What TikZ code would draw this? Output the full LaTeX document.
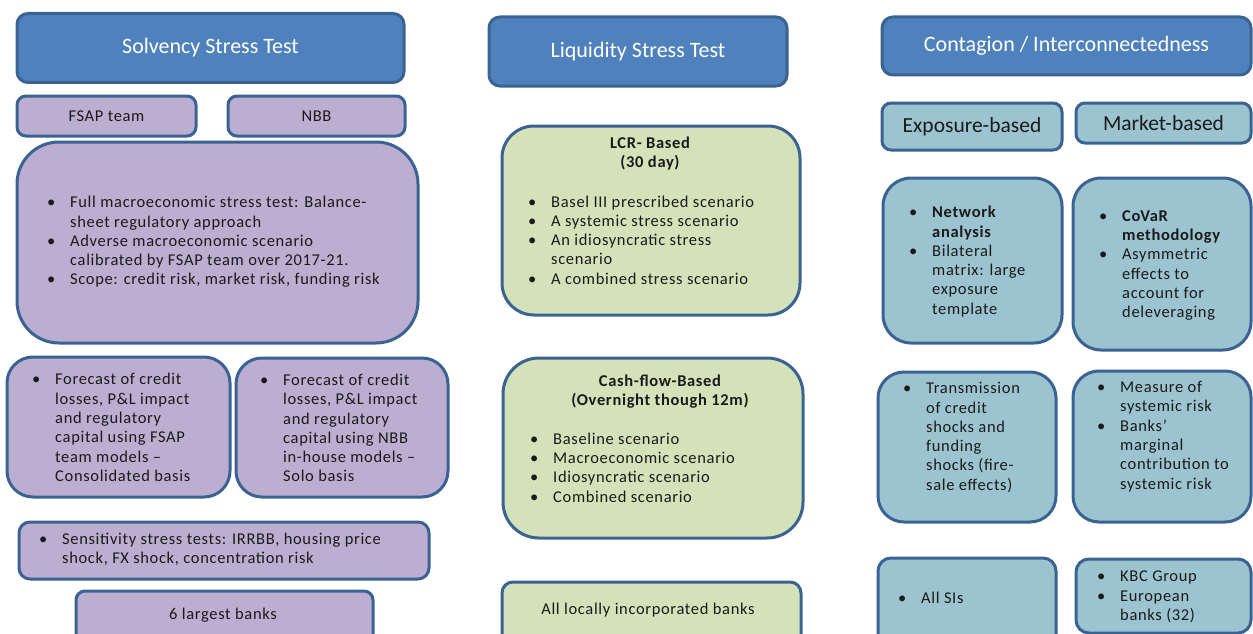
\documentclass[tikz,border=0pt]{standalone}
\usepackage{fontspec}
\setmainfont{Carlito}
\newfontfamily\bodyfont[LetterSpace=4]{Carlito}
\definecolor{hdrfill}{HTML}{4F81BD}
\definecolor{edge}{HTML}{3A6393}
\definecolor{purp}{HTML}{BCAED1}
\definecolor{olive}{HTML}{D4E2BA}
\definecolor{aqua}{HTML}{9CC4D0}
\definecolor{ink}{HTML}{1A1A1A}
\newcommand\bl{\makebox[23pt][l]{\textbullet}}
\newcommand\ind{\hspace*{23pt}}
\tikzset{
  boxbase/.style={draw=edge, line width=3pt, inner sep=0pt, text=ink},
  hdr/.style={boxbase, fill=hdrfill, rounded corners=11pt, text=white,
    font=\fontsize{22}{26}\selectfont},
  pbox/.style={boxbase, fill=purp},
  gbox/.style={boxbase, fill=olive},
  abox/.style={boxbase, fill=aqua},
  txt/.style={inner sep=0pt, align=left, text=ink,
    font=\bodyfont\fontsize{16.5}{19.3}\selectfont},
  ttl/.style={inner sep=0pt, align=center, text=ink,
    font=\bodyfont\fontsize{16.5}{19.3}\selectfont\bfseries},
  lbl/.style={font=\bodyfont\fontsize{16.5}{19.3}\selectfont},
  biglbl/.style={font=\fontsize{21.5}{24}\selectfont},
}
\begin{document}
\begin{tikzpicture}[x=1pt,y=-1pt]
\clip (0,0) rectangle (1253,634);
\fill[white] (0,0) rectangle (1253,634);

% ---------- Solvency column ----------
\node[hdr, minimum width=387pt, minimum height=69pt] (solv) at (210.5,48) {Solvency Stress Test};
\node[pbox, rounded corners=9pt, lbl, minimum width=179pt, minimum height=40pt] (fsap) at (106.5,116) {FSAP team};
\node[pbox, rounded corners=9pt, lbl, minimum width=177pt, minimum height=40pt] (nbb) at (316.5,116) {NBB};
\node[pbox, rounded corners=42pt, minimum width=401pt, minimum height=201pt] (macro) at (217.5,242.5) {};
\node[txt, anchor=west] (macrot) at (47,242) {\bl Full macroeconomic stress test: Balance-\\
\ind sheet regulatory approach\\
\bl Adverse macroeconomic scenario\\
\ind calibrated by FSAP team over 2017-21.\\
\bl Scope: credit risk, market risk, funding risk};
\node[pbox, rounded corners=26pt, minimum width=223pt, minimum height=140pt] (fc1) at (118.5,427) {};
\node[txt, anchor=west] (fc1t) at (32,427.5) {\bl Forecast of credit\\
\ind losses, P\&L impact\\
\ind and regulatory\\
\ind capital using FSAP\\
\ind team models –\\
\ind Consolidated basis};
\node[pbox, rounded corners=26pt, minimum width=212pt, minimum height=139pt] (fc2) at (342,427.5) {};
\node[txt, anchor=west] (fc2t) at (260,428) {\bl Forecast of credit\\
\ind losses, P\&L impact\\
\ind and regulatory\\
\ind capital using NBB\\
\ind in-house models –\\
\ind Solo basis};
\node[pbox, rounded corners=11pt, minimum width=410pt, minimum height=57pt] (sens) at (224,550.5) {};
\node[txt, anchor=west] (senst) at (39,549.5) {\bl Sensitivity stress tests: IRRBB, housing price\\
\ind shock, FX shock, concentration risk};
\node[pbox, rounded corners=9pt, minimum width=297pt, minimum height=59pt] (six) at (224.5,620.5) {};
\node[lbl, text=ink] (sixt) at (223,615) {6 largest banks};

% ---------- Liquidity column ----------
\node[hdr, minimum width=298pt, minimum height=69pt] (liq) at (638,51.5) {Liquidity Stress Test};
\node[gbox, rounded corners=32pt, minimum width=298pt, minimum height=189pt] (lcr) at (651,220.5) {};
\node[ttl] (lcrh) at (650,153.5) {LCR- Based\\(30 day)};
\node[txt, anchor=west] (lcrt) at (528,240) {\bl Basel III prescribed scenario\\
\bl A systemic stress scenario\\
\bl An idiosyncratic stress\\
\ind scenario\\
\bl A combined stress scenario};
\node[gbox, rounded corners=36pt, minimum width=300pt, minimum height=180pt] (cash) at (653,448) {};
\node[ttl] (cashh) at (660,391.5) {Cash-flow-Based\\(Overnight though 12m)};
\node[txt, anchor=west] (casht) at (530,467.5) {\bl Baseline scenario\\
\bl Macroeconomic scenario\\
\bl Idiosyncratic scenario\\
\bl Combined scenario};
\node[gbox, rounded corners=11pt, minimum width=299pt, minimum height=68pt] (all) at (651.5,616) {};
\node[lbl, text=ink] (allt) at (648,610) {All locally incorporated banks};

% ---------- Contagion column ----------
\node[hdr, minimum width=369pt, minimum height=58pt] (cont) at (1066.5,46) {Contagion / Interconnectedness};
\node[abox, rounded corners=9pt, biglbl, minimum width=180pt, minimum height=47pt] (expo) at (972,126.5) {Exposure-based};
\node[abox, rounded corners=9pt, biglbl, minimum width=175pt, minimum height=40pt] (mkt) at (1163.5,123) {Market-based};
\node[abox, rounded corners=28pt, minimum width=179pt, minimum height=165pt] (net) at (972.5,260.5) {};
\node[txt, anchor=west] (nett) at (909,261.5) {\bl \textbf{Network}\\
\ind \textbf{analysis}\\
\bl Bilateral\\
\ind matrix: large\\
\ind exposure\\
\ind template};
\node[abox, rounded corners=28pt, minimum width=178pt, minimum height=172pt] (covar) at (1162,264) {};
\node[txt, anchor=west] (covart) at (1099,265.5) {\bl \textbf{CoVaR}\\
\ind \textbf{methodology}\\
\bl Asymmetric\\
\ind effects to\\
\ind account for\\
\ind deleveraging};
\node[abox, rounded corners=26pt, minimum width=178pt, minimum height=150pt] (trans) at (967,447) {};
\node[txt, anchor=west] (transt) at (903,437.5) {\bl Transmission\\
\ind of credit\\
\ind shocks and\\
\ind funding\\
\ind shocks (fire-\\
\ind sale effects)};
\node[abox, rounded corners=26pt, minimum width=178pt, minimum height=151pt] (meas) at (1162,446.5) {};
\node[txt, anchor=west] (meast) at (1097,436.5) {\bl Measure of\\
\ind systemic risk\\
\bl Banks’\\
\ind marginal\\
\ind contribution to\\
\ind systemic risk};
\node[abox, rounded corners=13pt, minimum width=178pt, minimum height=92pt] (sis) at (967,604) {};
\node[txt, anchor=west] (sist) at (898,598) {\bl All SIs};
\node[abox, rounded corners=13pt, minimum width=175pt, minimum height=74pt] (kbc) at (1163.5,596) {};
\node[txt, anchor=west] (kbct) at (1097,597) {\bl KBC Group\\
\bl European\\
\ind banks (32)};
\end{tikzpicture}
\end{document}
